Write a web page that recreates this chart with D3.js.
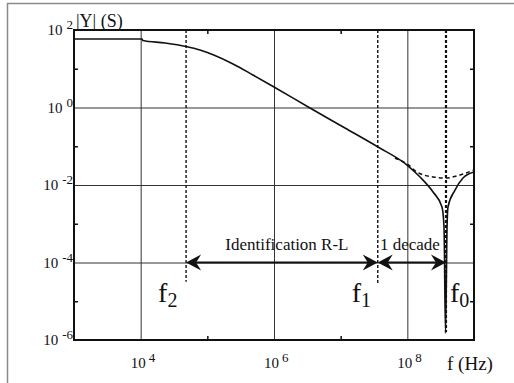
<!DOCTYPE html>
<html>
<head>
<meta charset="utf-8">
<script src="https://cdn.jsdelivr.net/npm/d3@7"></script>
<style>
  html, body { margin: 0; padding: 0; background: #fff; }
  svg { display: block; }
</style>
</head>
<body>
<svg id="chart" width="514" height="383" font-family="'Liberation Serif', 'Times New Roman', Times, 'DejaVu Serif', serif"></svg>
<script>
// ---- data ----
const majorFreqTicks = [1e4, 1e6, 1e8];
const minorFreqTicks = [1e5, 1e7];
const majorYTicks = [1e-6, 1e-4, 1e-2, 1e0, 1e2];
const minorYTicks = [1e-5, 1e-3, 1e-1, 1e1];
const freqTickExp = ["4", "6", "8"];
const yTickExp = ["-6", "-4", "-2", "0", "2"];

// measured |Y| (solid)
const solidF = [1e3, 1.05e4, 1.08e4, 2.32e4, 4.8e4, 7.76e4, 1.3e5, 2.43e5, 4.84e5, 1e6, 3.47e6, 1.16e7, 3.63e7, 9.9e7, 1.55e8, 2.43e8, 3.31e8, 3.55e8, 3.74e8, 3.94e8, 4.07e8, 5.19e8, 6.84e8, 1e9];
const solidY = [58.6, 58.6, 53.6, 46.2, 37.5, 30.5, 22.0, 13.3, 6.9, 3.38, 0.97, 0.296, 0.0957, 0.0328, 0.0161, 0.0066, 0.0027, 8.2e-4, 1.5e-6, 8.2e-4, 0.0027, 0.0074, 0.0152, 0.0216];
// model |Y| (dashed)
const dashF = [6.5e7, 9.9e7, 1.4e8, 2.43e8, 3.8e8, 6.17e8, 1e9];
const dashY = [0.0498, 0.0348, 0.0216, 0.0161, 0.0152, 0.0181, 0.0244];

// characteristic frequencies
const markerNames = ["2", "1", "0"];
const markerF = [4.8e4, 3.6e7, 3.8e8];
const markerBottom = [3.2e-5, 2.9e-5, 1.6e-6];
const arrowLevel = 1e-4;
const arrowLabels = ["Identification R-L", "1 decade"];

// ---- layout ----
const svg = d3.select("#chart");
const L = 74, R = 474, T = 30, B = 340;
const x = d3.scaleLog().domain([1e3, 1e9]).range([L, R]);
const y = d3.scaleLog().domain([1e-6, 1e2]).range([B, T]);
const INK = "#111";

// outer frame
svg.append("rect").attr("x", 7.5).attr("y", 3.5).attr("width", 530).attr("height", 400)
  .attr("fill", "none").attr("stroke", "#8a8a8a").attr("stroke-width", 1.5);

// grid
const gx = svg.append("g").attr("transform", `translate(0,${B})`)
  .call(d3.axisBottom(x).tickValues(majorFreqTicks).tickSize(-(B - T)).tickFormat(""));
const gy = svg.append("g").attr("transform", `translate(${L},0)`)
  .call(d3.axisLeft(y).tickValues(majorYTicks).tickSize(-(R - L)).tickFormat(""));
[gx, gy].forEach(g => {
  g.select(".domain").remove();
  g.selectAll(".tick line").attr("stroke", "#333").attr("stroke-width", 1);
});

// minor ticks (inward on all four sides)
function minor(axis, tr) {
  const g = svg.append("g").attr("transform", tr).call(axis);
  g.select(".domain").remove();
  g.selectAll(".tick line").attr("stroke", INK).attr("stroke-width", 1.5);
}
minor(d3.axisBottom(x).tickValues(minorFreqTicks).tickSize(-4).tickFormat(""), `translate(0,${B})`);
minor(d3.axisTop(x).tickValues(minorFreqTicks).tickSize(-4).tickFormat(""), `translate(0,${T})`);
minor(d3.axisLeft(y).tickValues(minorYTicks).tickSize(-4).tickFormat(""), `translate(${L},0)`);
minor(d3.axisRight(y).tickValues(minorYTicks).tickSize(-4).tickFormat(""), `translate(${R},0)`);

// frame
svg.append("path").attr("d", `M${L},${T}H${R}V${B}H${L}Z`)
  .attr("fill", "none").attr("stroke", INK).attr("stroke-width", 2);

function txt(xp, yp, size) {
  return svg.append("text").attr("x", xp).attr("y", yp).attr("font-size", size).attr("fill", INK);
}

// tick labels
majorFreqTicks.forEach((v, i) => {
  const t = txt(x(v) - 10, 368, 15);
  t.append("tspan").text("10");
  t.append("tspan").attr("dx", 3).attr("dy", -6).attr("font-size", 13).text(freqTickExp[i]);
});
majorYTicks.forEach((v, i) => {
  const t = txt(73, y(v) + 5, 15).attr("text-anchor", "end");
  t.append("tspan").text("10");
  t.append("tspan").attr("dx", 4).attr("dy", -6).attr("font-size", 13).text(yTickExp[i]);
});

// axis titles
txt(76, 27, 18).text("|Y| (S)");
txt(447, 370, 19).text("f (Hz)");

// characteristic vertical dashed lines
markerF.forEach((f, i) => {
  svg.append("line").attr("x1", x(f)).attr("x2", x(f)).attr("y1", T).attr("y2", y(markerBottom[i]))
    .attr("stroke", INK).attr("stroke-width", i === 2 ? 2.2 : 1.4)
    .attr("stroke-dasharray", "3,2");
});

// curves
const line = d3.line().x(d => x(d[0])).y(d => y(d[1])).curve(d3.curveMonotoneX);
svg.append("path").datum(dashF.map((f, i) => [f, dashY[i]])).attr("d", line)
  .attr("fill", "none").attr("stroke", INK).attr("stroke-width", 1.5).attr("stroke-dasharray", "4,3");
svg.append("path").datum(solidF.map((f, i) => [f, solidY[i]])).attr("d", line)
  .attr("fill", "none").attr("stroke", INK).attr("stroke-width", 1.6).attr("stroke-linejoin", "round");

// arrows
const ay = y(arrowLevel);
function head(xt, dir) {
  svg.append("path")
    .attr("d", `M${xt},${ay}L${xt - dir * 15},${ay - 8}L${xt - dir * 10},${ay}L${xt - dir * 15},${ay + 8}Z`)
    .attr("fill", INK);
}
[[markerF[0], markerF[1]], [markerF[1], markerF[2]]].forEach(([a, b], i) => {
  svg.append("line").attr("x1", x(a) + 6).attr("x2", x(b) - 6).attr("y1", ay).attr("y2", ay)
    .attr("stroke", INK).attr("stroke-width", 2);
  head(x(a), -1);
  head(x(b), 1);
  const xm = Math.sqrt(a * b);
  txt(x(xm) + (i === 0 ? 5 : -2), 250, 17).attr("text-anchor", "middle").text(arrowLabels[i]);
});

// f labels
const fLabelDx = [-28, -26, 4];
markerF.forEach((f, i) => {
  const t = txt(x(f) + fLabelDx[i], 302, 28);
  t.append("tspan").text("f");
  t.append("tspan").attr("dy", 5).attr("font-size", 20).text(markerNames[i]);
});
</script>
</body>
</html>
